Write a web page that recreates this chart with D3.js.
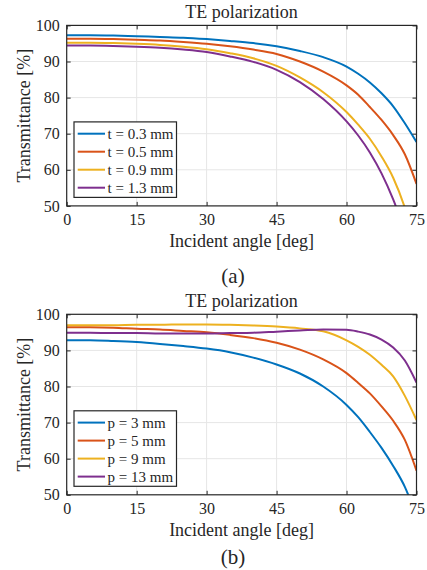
<!DOCTYPE html>
<html>
<head>
<meta charset="utf-8">
<script src="https://cdn.jsdelivr.net/npm/d3@7"></script>
<style>
  body { margin: 0; background: #fff; }
  text { font-family: "Liberation Serif", "Times New Roman", serif; fill: #262626; }
</style>
</head>
<body>
<svg id="chart" width="427" height="570"></svg>
<script>
const angles = [0, 5, 10, 15, 20, 25, 30, 35, 40, 45, 50, 55, 60, 62.5, 65, 67.5, 70, 72.5, 75];

const x_ticks = [0, 15, 30, 45, 60, 75];
const y_ticks = [50, 60, 70, 80, 90, 100];

// panel (a): thickness sweep
const labels_a = ['t = 0.3 mm', 't = 0.5 mm', 't = 0.9 mm', 't = 1.3 mm'];
const t_03 = [97.3, 97.3, 97.2, 97.0, 96.8, 96.6, 96.2, 95.7, 95.1, 94.2, 92.9, 91.2, 88.6, 86.6, 84.2, 81.2, 77.6, 72.9, 67.7];
const t_05 = [96.3, 96.3, 96.2, 96.0, 95.8, 95.4, 94.9, 94.2, 93.3, 92.1, 90.0, 87.2, 83.4, 80.8, 77.4, 73.8, 69.6, 64.3, 56.1];
const t_09 = [95.2, 95.2, 95.1, 94.9, 94.6, 94.1, 93.4, 92.3, 90.9, 88.8, 85.6, 81.5, 76.0, 72.5, 68.6, 63.7, 57.8, 49.5, 38.0];
const t_13 = [94.4, 94.4, 94.3, 94.1, 93.8, 93.3, 92.6, 91.4, 89.9, 87.7, 84.3, 79.6, 73.4, 69.5, 64.8, 59.0, 51.8, 43.0, 34.0];

// panel (b): period sweep
const labels_b = ['p = 3 mm', 'p = 5 mm', 'p = 9 mm', 'p = 13 mm'];
const p_3 = [92.8, 92.8, 92.6, 92.3, 91.8, 91.2, 90.5, 89.5, 88.0, 86.1, 83.6, 80.0, 74.9, 71.5, 67.4, 63.0, 58.0, 52.2, 44.0];
const p_5 = [96.4, 96.4, 96.3, 96.0, 95.8, 95.4, 95.0, 94.3, 93.4, 92.1, 90.2, 87.5, 83.7, 81.0, 78.1, 74.5, 70.5, 65.2, 56.7];
const p_9 = [97.0, 97.0, 97.0, 97.1, 97.1, 97.2, 97.2, 97.1, 96.9, 96.6, 96.1, 95.3, 92.8, 91.0, 88.8, 86.0, 82.8, 77.4, 70.7];
const p_13 = [94.9, 94.9, 94.8, 94.8, 94.7, 94.7, 94.7, 94.8, 94.9, 95.2, 95.5, 95.8, 95.7, 95.2, 94.4, 93.0, 90.8, 87.2, 81.1];

const colors = ['#0072BD', '#D95319', '#EDB120', '#7E2F8E'];

const svg = d3.select('#chart');

function draw_panel(top, series, labels, tag, tag_y, id) {
  const left = 66.7, right = 416.5, bottom = top + 180.5;

  const x = d3.scaleLinear().domain([0, 75]).range([left, right]);
  const y = d3.scaleLinear().domain([50, 100]).range([bottom, top]);

  const g = svg.append('g');

  // grid
  g.append('g').selectAll('line')
    .data(x_ticks.slice(1, -1))
    .enter().append('line')
    .attr('x1', (d) => x(d)).attr('x2', (d) => x(d))
    .attr('y1', top).attr('y2', bottom)
    .attr('stroke', '#e6e6e6').attr('stroke-width', 1);
  g.append('g').selectAll('line')
    .data(y_ticks.slice(1, -1))
    .enter().append('line')
    .attr('x1', left).attr('x2', right)
    .attr('y1', (d) => y(d)).attr('y2', (d) => y(d))
    .attr('stroke', '#e6e6e6').attr('stroke-width', 1);

  // curves
  g.append('clipPath').attr('id', `clip${id}`)
    .append('rect')
    .attr('x', left).attr('y', top)
    .attr('width', right - left).attr('height', bottom - top);

  const line = d3.line()
    .x((d, i) => x(angles[i]))
    .y((d) => y(d))
    .curve(d3.curveMonotoneX);

  g.append('g').attr('clip-path', `url(#clip${id})`)
    .selectAll('path')
    .data(series)
    .enter().append('path')
    .attr('d', (d) => line(d))
    .attr('fill', 'none')
    .attr('stroke', (d, i) => colors[i])
    .attr('stroke-width', 2);

  // axes, ticks inside on all four sides
  const ax_bottom = g.append('g').attr('transform', `translate(0,${bottom})`)
    .call(d3.axisBottom(x).tickValues(x_ticks).tickSizeInner(-4).tickSizeOuter(0).tickPadding(8));
  const ax_top = g.append('g').attr('transform', `translate(0,${top})`)
    .call(d3.axisTop(x).tickValues(x_ticks).tickSizeInner(-4).tickSizeOuter(0).tickFormat(''));
  const ax_left = g.append('g').attr('transform', `translate(${left},0)`)
    .call(d3.axisLeft(y).tickValues(y_ticks).tickSizeInner(-4).tickSizeOuter(0).tickPadding(7));
  const ax_right = g.append('g').attr('transform', `translate(${right},0)`)
    .call(d3.axisRight(y).tickValues(y_ticks).tickSizeInner(-4).tickSizeOuter(0).tickFormat(''));

  [ax_bottom, ax_top, ax_left, ax_right].forEach((a) => {
    a.select('.domain').remove();
    a.selectAll('line').attr('stroke', '#262626');
    a.selectAll('text')
      .style('font-family', '"Liberation Serif", serif')
      .style('font-size', '16px')
      .attr('fill', '#262626');
  });

  g.append('rect')
    .attr('x', left).attr('y', top)
    .attr('width', right - left).attr('height', bottom - top)
    .attr('fill', 'none').attr('stroke', '#262626').attr('stroke-width', 1.2);

  // labels
  g.append('text')
    .attr('x', (left + right) / 2).attr('y', top - 7)
    .attr('text-anchor', 'middle')
    .style('font-size', '18px')
    .text('TE polarization');

  g.append('text')
    .attr('x', (left + right) / 2).attr('y', bottom + 41)
    .attr('text-anchor', 'middle')
    .style('font-size', '18px')
    .text('Incident angle [deg]');

  g.append('text')
    .attr('transform', `translate(30,${(top + bottom) / 2}) rotate(-90)`)
    .attr('text-anchor', 'middle')
    .style('font-size', '18px')
    .text('Transmittance [%]');

  g.append('text')
    .attr('x', 233).attr('y', tag_y)
    .attr('text-anchor', 'middle')
    .style('font-size', '21px')
    .text(tag);

  // legend
  const lg = g.append('g').attr('transform', `translate(74,${bottom - 84})`);
  lg.append('rect')
    .attr('width', 102.5).attr('height', 75.5)
    .attr('fill', '#fff').attr('stroke', '#262626').attr('stroke-width', 1.2);
  const rows = lg.selectAll('g')
    .data(labels)
    .enter().append('g')
    .attr('transform', (d, i) => `translate(0,${11.8 + i * 18})`);
  rows.append('line')
    .attr('x1', 3.7).attr('x2', 31)
    .attr('stroke', (d, i) => colors[i])
    .attr('stroke-width', 2);
  rows.append('text')
    .attr('x', 33.5).attr('dy', '0.33em')
    .style('font-size', '15px')
    .text((d) => d);
}

draw_panel(25.4, [t_03, t_05, t_09, t_13], labels_a, '(a)', 283, 'a');
draw_panel(314.3, [p_3, p_5, p_9, p_13], labels_b, '(b)', 564, 'b');
</script>
</body>
</html>
